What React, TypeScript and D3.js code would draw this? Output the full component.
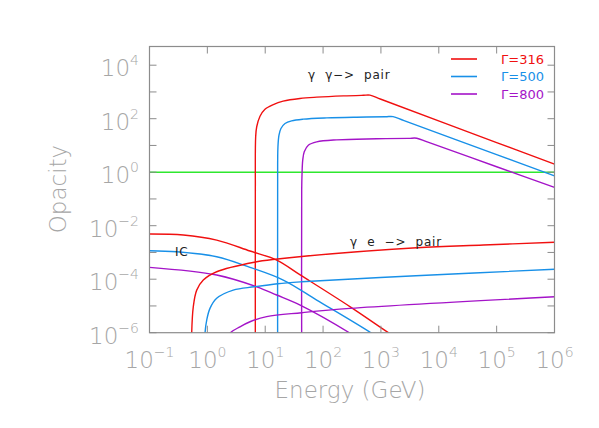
import * as d3 from "d3";
import { useRef, useEffect } from "react";

// [Energy (GeV), opacity]
const ggRed = [[6.75, 1e-7], [6.75, 0.21], [6.84, 21], [7.13, 50], [8.13, 124], [9.9, 227], [13.8, 339], [20.4, 452], [39.8, 570], [77.6, 638], [224, 713], [500, 750], [646, 759], [1000, 532], [1e5, 12.8], [1e6, 2.0]];
const ggBlue = [[16.4, 1e-7], [16.4, 0.21], [16.6, 8.9], [17.3, 24.3], [18.7, 43], [22, 66], [28.6, 83], [45.5, 96], [116, 107], [380, 114], [1200, 118], [1620, 120], [2512, 85], [1e5, 4.56], [1e6, 0.73]];
const ggPurple = [[42.7, 1e-7], [42.7, 0.21], [43.3, 0.9], [44.5, 2.8], [47.3, 5.8], [55.6, 10.2], [77.6, 13.6], [172, 16.2], [851, 17.7], [3000, 18.4], [4170, 18.6], [6310, 13.5], [1e5, 1.6], [1e6, 0.27]];

const icRed = [[0.1, 4.9e-3], [0.384, 4.5e-3], [1.45, 2.9e-3], [5.46, 1.13e-3], [15.8, 5.2e-4], [40.2, 1.45e-4], [295, 9.3e-6], [1400, 9.5e-7], [3160, 3e-7]];
const icBlue = [[0.1, 1.16e-3], [0.295, 1.06e-3], [1.45, 6.9e-4], [5.46, 2.77e-4], [20.5, 9.3e-5], [77.6, 1.66e-5], [692, 9.5e-7], [1500, 3e-7]];
const icPurple = [[0.1, 2.77e-4], [1.45, 1.43e-4], [7.13, 5.2e-5], [15.8, 2.57e-5], [40.2, 1.08e-5], [295, 9.5e-7], [650, 3e-7]];

const geRed = [[0.536, 1e-7], [0.536, 9.5e-7], [0.571, 9.3e-6], [0.655, 3.9e-5], [0.851, 9.3e-5], [1.45, 1.9e-4], [6.47, 4.3e-4], [16.4, 5.7e-4], [42.7, 7.1e-4], [4150, 1.5e-3], [5.9e4, 1.9e-3], [1e6, 2.4e-3]];
const geBlue = [[0.91, 1e-7], [0.91, 9.5e-7], [0.975, 2.95e-6], [1.11, 8.1e-6], [1.45, 1.93e-5], [2.8, 3.9e-5], [6.47, 5.2e-5], [16.4, 6.8e-5], [42.7, 8.0e-5], [4000, 1.35e-4], [1e6, 2.34e-4]];
const gePurple = [[2.24, 5e-7], [2.46, 9.5e-7], [3.66, 1.66e-6], [5.46, 2.57e-6], [10.6, 4e-6], [42.7, 5.6e-6], [292, 8.1e-6], [1e6, 2.2e-5]];

const unity = [[0.1, 1], [1e6, 1]];

const xTickExps = [-1, 0, 1, 2, 3, 4, 5, 6];
const yTickExps = [4, 2, 0, -2, -4, -6];
const yMinorExps = [3, 1, -1, -3, -5];

const legendLabels = ["\u0393=316", "\u0393=500", "\u0393=800"];
const colors = ["#f01010", "#1890e8", "#a414c8"];

const App = () => {
  const container = useRef(null);
  useEffect(() => {
    createChart();
  });

  const createChart = () => {
    const node = container.current;
    const W = 599, H = 428;
    const plot = { l: 149.5, r: 554.5, t: 46.5, b: 332.7 };
    const axisColor = "#8c8c8c";
    const labelColor = "#a6a6a6";
    const tickFont = "'DejaVu Sans ExtraLight', 'DejaVu Sans', sans-serif";

    const svg = d3.select(node).selectAll("svg").data([0]).join("svg")
      .attr("width", W).attr("height", H);
    svg.selectAll("*").remove();

    const x = d3.scaleLog().domain([0.1, 1e6]).range([plot.l, plot.r]);
    const y = d3.scaleLog().domain([1e-6, 5e4]).range([plot.b, plot.t]);

    svg.append("defs").append("clipPath").attr("id", "plotclip")
      .append("rect")
      .attr("x", plot.l).attr("y", plot.t)
      .attr("width", plot.r - plot.l).attr("height", plot.b - plot.t);

    const line = d3.line().x((d) => x(d[0])).y((d) => y(d[1]))
      .curve(d3.curveCatmullRom.alpha(0.5));

    const g = svg.append("g").attr("clip-path", "url(#plotclip)");
    const series = [
      { d: unity, c: "#2ee82e" },
      { d: ggRed, c: colors[0] }, { d: ggBlue, c: colors[1] }, { d: ggPurple, c: colors[2] },
      { d: icRed, c: colors[0] }, { d: icBlue, c: colors[1] }, { d: icPurple, c: colors[2] },
      { d: geRed, c: colors[0] }, { d: geBlue, c: colors[1] }, { d: gePurple, c: colors[2] },
    ];
    g.selectAll(".curve").data(series).join("path")
      .attr("class", "curve")
      .attr("d", (s) => line(s.d))
      .attr("fill", "none")
      .attr("stroke", (s) => s.c)
      .attr("stroke-width", 1.4);

    // frame
    svg.append("rect")
      .attr("x", plot.l).attr("y", plot.t)
      .attr("width", plot.r - plot.l).attr("height", plot.b - plot.t)
      .attr("fill", "none").attr("stroke", axisColor).attr("stroke-width", 1.2);

    const tl = 7;
    // x ticks top and bottom
    xTickExps.forEach((e) => {
      const px = x(Math.pow(10, e));
      svg.append("line").attr("x1", px).attr("x2", px).attr("y1", plot.b).attr("y2", plot.b - tl)
        .attr("stroke", axisColor);
      svg.append("line").attr("x1", px).attr("x2", px).attr("y1", plot.t).attr("y2", plot.t + tl)
        .attr("stroke", axisColor);
      const t = svg.append("text")
        .attr("x", px).attr("y", 368)
        .attr("text-anchor", "middle")
        .attr("fill", labelColor)
        .style("font-family", tickFont)
        .style("font-weight", 200)
        .style("font-size", "23px");
      t.append("tspan").text("10");
      t.append("tspan").attr("dy", -11).style("font-size", "14px").text(e < 0 ? "\u2212" + -e : String(e));
    });

    [...yTickExps, ...yMinorExps].forEach((e) => {
      const py = y(Math.pow(10, e));
      svg.append("line").attr("x1", plot.l).attr("x2", plot.l + tl).attr("y1", py).attr("y2", py)
        .attr("stroke", axisColor);
      svg.append("line").attr("x1", plot.r).attr("x2", plot.r - tl).attr("y1", py).attr("y2", py)
        .attr("stroke", axisColor);
    });

    yTickExps.forEach((e) => {
      const py = y(Math.pow(10, e));
      const t = svg.append("text")
        .attr("x", 139).attr("y", py + 11)
        .attr("text-anchor", "end")
        .attr("fill", labelColor)
        .style("font-family", tickFont)
        .style("font-weight", 200)
        .style("font-size", "23px");
      t.append("tspan").text("10");
      t.append("tspan").attr("dy", -11).style("font-size", "14px").text(e < 0 ? "\u2212" + -e : String(e));
    });

    svg.append("text")
      .attr("x", plot.l + (plot.r - plot.l) / 2 - 2).attr("y", 398)
      .attr("text-anchor", "middle")
      .attr("fill", labelColor)
      .style("font-family", tickFont)
      .style("font-weight", 200)
      .style("font-size", "23px")
      .text("Energy (GeV)");

    svg.append("text")
      .attr("transform", `translate(66, 189) rotate(-90)`)
      .attr("text-anchor", "middle")
      .attr("fill", labelColor)
      .style("font-family", tickFont)
      .style("font-weight", 200)
      .style("font-size", "23px")
      .text("Opacity");

    // legend
    legendLabels.forEach((lab, i) => {
      const ly = 59 + i * 17.5;
      svg.append("line").attr("x1", 451).attr("x2", 477).attr("y1", ly).attr("y2", ly)
        .attr("stroke", colors[i]).attr("stroke-width", 1.6);
      svg.append("text").attr("x", 501).attr("y", ly + 4.5)
        .attr("fill", colors[i])
        .style("font-family", "'DejaVu Sans', sans-serif")
        .style("font-size", "13px")
        .text(lab);
    });

    const annotate = (tx, ty, s) =>
      svg.append("text").attr("x", tx).attr("y", ty)
        .attr("fill", "#222")
        .style("font-family", "'DejaVu Sans', sans-serif")
        .style("font-size", "12px")
        .style("letter-spacing", "0.8px")
        .style("white-space", "pre")
        .text(s);
    annotate(308, 79, "\u03b3  \u03b3\u2212>  pair");
    annotate(350, 246, "\u03b3  e  \u2212>  pair");
    annotate(175, 256, "IC");
  };

  return <div ref={container} style={{ position: "absolute", left: 0, top: 0 }}></div>;
};

export default App;
